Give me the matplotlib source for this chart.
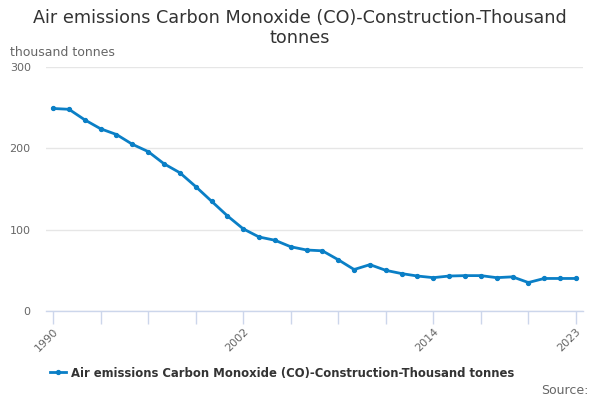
import matplotlib
matplotlib.use("Agg")
import matplotlib.pyplot as plt
from matplotlib.lines import Line2D

years = list(range(1990, 2024))
values = [249, 248, 235, 224, 217, 205, 196, 181, 170, 153, 135, 117, 101, 91, 87, 79,
          75, 74, 63, 51, 57, 50, 46, 43, 41, 43, 43.5, 43.5, 41, 42, 35, 40, 40, 40]
tick_years = list(range(1990, 2024, 3))
label_years = [1990, 2002, 2014, 2023]
y_ticks = [0, 100, 200, 300]

title = "Air emissions Carbon Monoxide (CO)-Construction-Thousand\ntonnes"
series_name = "Air emissions Carbon Monoxide (CO)-Construction-Thousand tonnes"

color = "#0a7fc6"
grid_c = "#e6e6e6"
axis_c = "#ccd6eb"
text_c = "#666666"

fig = plt.figure(figsize=(6, 4), dpi=100)
ax = fig.add_axes([46/600, (400-311)/400, (583-46)/600, (311-67)/400])

ax.plot(years, values, color=color, lw=2, marker="o", markersize=2.8, zorder=3)

ax.set_xlim(1989.55, 2023.45)
ax.set_ylim(0, 300)
ax.set_yticks(y_ticks)
ax.set_yticklabels([str(v) for v in y_ticks])
ax.set_xticks(tick_years)
ax.set_xticklabels([str(y) if y in label_years else "" for y in tick_years],
                   rotation=45, ha="right", rotation_mode="anchor")
ax.tick_params(axis="x", length=9, width=1, color=axis_c, labelcolor=text_c,
               labelsize=8, pad=2)
ax.tick_params(axis="y", length=0, labelcolor=text_c, labelsize=8, pad=11)
for lab in ax.get_yticklabels():
    lab.set_horizontalalignment("right")

ax.grid(axis="y", color=grid_c, lw=1)
ax.set_axisbelow(True)
for s in ["top", "right", "left"]:
    ax.spines[s].set_visible(False)
ax.spines["bottom"].set_color(axis_c)
ax.spines["bottom"].set_linewidth(1)
ax.spines["bottom"].set_zorder(4)

fig.text(0.5, 1 - 28/400, title, ha="center", va="center", fontsize=12.7,
         color="#333333", linespacing=1.15)
fig.text(10/600, 1 - 52/400, "thousand tonnes", ha="left", va="center",
         fontsize=9, color=text_c)

handle = Line2D([], [], color=color, lw=2, marker="o", markersize=2.8)
leg = fig.legend([handle], [series_name], loc="center", bbox_to_anchor=(282/600, 1 - 373/400),
                 frameon=False, handlelength=1.4, handletextpad=0.4,
                 prop={"weight": "bold", "size": 8.4})
for t in leg.get_texts():
    t.set_color("#333333")

fig.text(589/600, 1 - 390/400, "Source:", ha="right", va="center", fontsize=9,
         color=text_c)

fig.savefig("out.png", dpi=100)
